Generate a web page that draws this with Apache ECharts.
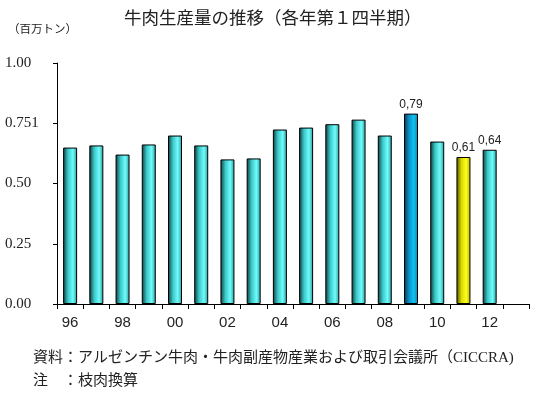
<!DOCTYPE html>
<html>
<head>
<meta charset="utf-8">
<script src="https://cdn.jsdelivr.net/npm/echarts@6/dist/echarts.min.js"></script>
<style>
  html, body { margin: 0; padding: 0; background: #fff; }
  #chart { width: 540px; height: 398px; }
</style>
</head>
<body>
<div id="chart"></div>
<script>
// 年（各年第1四半期）、最後の枠は空
var years = ['96','97','98','99','00','01','02','03','04','05','06','07','08','09','10','11','12',''];
var production = [0.649, 0.658, 0.620, 0.662, 0.699, 0.658, 0.600, 0.604, 0.724, 0.732, 0.746, 0.765, 0.699, 0.79, 0.674, 0.61, 0.64, null];
var yTickLabels = ['0.00', '0.25', '0.50', '0.751', '1.00'];
var labelledYears = ['09', '11', '12'];
var blueYears = ['09'];
var yellowYears = ['11'];

var chartDom = document.getElementById('chart');
var myChart = echarts.init(chartDom);
var jpFont = "'Liberation Serif', 'Noto Sans CJK JP'";

function grad(c0, c1, c2, c3) {
  return new echarts.graphic.LinearGradient(0, 0, 1, 0, [
    { offset: 0, color: c0 },
    { offset: 0.35, color: c1 },
    { offset: 0.7, color: c2 },
    { offset: 1, color: c3 }
  ]);
}

var barData = production.map(function (v, i) {
  var y = years[i];
  var color = grad('#0d3a3a', '#3cc8c8', '#6ffcfc', '#2a9a9a');
  if (blueYears.indexOf(y) >= 0) color = grad('#06304a', '#0a90c8', '#10c4f0', '#0880b0');
  if (yellowYears.indexOf(y) >= 0) color = grad('#4a4a00', '#d8d800', '#ffff20', '#b0b000');
  return {
    value: v,
    itemStyle: { color: color, borderColor: '#000', borderWidth: 1 },
    label: { show: labelledYears.indexOf(y) >= 0 }
  };
});

var option = {
  animation: false,
  title: [
    {
      text: '牛肉生産量の推移（各年第１四半期）',
      left: 119, top: 6,
      textStyle: { fontFamily: jpFont, fontSize: 17.5, fontWeight: 'normal', color: '#222' }
    },
    {
      text: '（百万トン）',
      left: 3, top: 19,
      textStyle: { fontFamily: jpFont, fontSize: 11.5, fontWeight: 'normal', color: '#222' }
    },
    {
      text: '資料：アルゼンチン牛肉・牛肉副産物産業および取引会議所（CICCRA)',
      left: 28, top: 346,
      textStyle: { fontFamily: jpFont, fontSize: 15, fontWeight: 'normal', color: '#222' }
    },
    {
      text: '注　：枝肉換算',
      left: 28, top: 369,
      textStyle: { fontFamily: jpFont, fontSize: 15, fontWeight: 'normal', color: '#222' }
    }
  ],
  grid: { left: 57, right: 11, top: 63, bottom: 94, containLabel: false },
  xAxis: {
    type: 'category',
    data: years,
    boundaryGap: true,
    axisLine: { lineStyle: { color: '#000', width: 1 } },
    axisTick: { show: true, interval: 0, length: 5, lineStyle: { color: '#000' } },
    axisLabel: {
      interval: 1, color: '#222', fontSize: 15,
      fontFamily: 'Liberation Sans', margin: 11
    }
  },
  yAxis: {
    type: 'value',
    min: 0, max: 1, interval: 0.25,
    splitLine: { show: false },
    axisLine: { show: true, lineStyle: { color: '#000', width: 1 } },
    axisTick: { show: true, length: 4, lineStyle: { color: '#000' } },
    axisLabel: {
      color: '#222', fontSize: 15, fontFamily: 'Liberation Serif',
      align: 'left', margin: 52,
      formatter: function (v) { return yTickLabels[Math.round(v / 0.25)]; }
    }
  },
  series: [
    {
      type: 'bar',
      data: barData,
      barWidth: 14,
      label: {
        position: 'top', distance: 3,
        fontFamily: 'Liberation Sans', fontSize: 12, color: '#222',
        formatter: function (p) { return String(p.value.toFixed(2)).replace('.', ','); }
      }
    }
  ]
};

myChart.setOption(option);
</script>
</body>
</html>
